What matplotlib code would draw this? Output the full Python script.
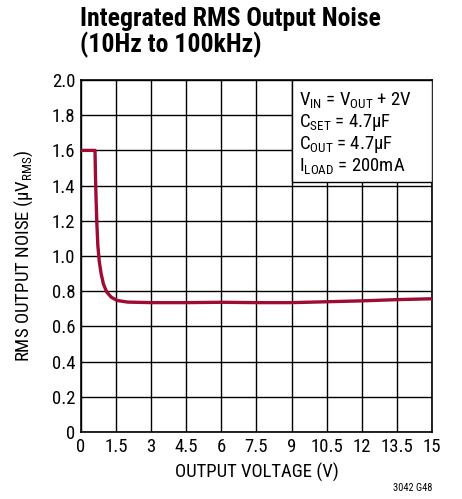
import matplotlib
matplotlib.use("Agg")
import matplotlib.pyplot as plt
from matplotlib.patches import Rectangle

# Integrated RMS output noise vs output voltage
vout = [0, 0.6, 0.62, 0.65, 0.68, 0.72, 0.78, 0.86, 0.96, 1.1, 1.3, 1.55, 2.0, 3.0,
        4.5, 6.0, 7.5, 9.0, 10.5, 12.0, 13.5, 15.0]
noise = [1.6, 1.6, 1.45, 1.3, 1.18, 1.06, 0.97, 0.9, 0.84, 0.795, 0.765, 0.747, 0.738,
         0.735, 0.735, 0.737, 0.735, 0.735, 0.74, 0.745, 0.752, 0.757]

xticks = [0, 1.5, 3, 4.5, 6, 7.5, 9, 10.5, 12, 13.5, 15]
xticklabels = ["0", "1.5", "3", "4.5", "6", "7.5", "9", "10.5", "12", "13.5", "15"]
yticks = [0, 0.2, 0.4, 0.6, 0.8, 1.0, 1.2, 1.4, 1.6, 1.8, 2.0]
yticklabels = ["0", "0.2", "0.4", "0.6", "0.8", "1.0", "1.2", "1.4", "1.6", "1.8", "2.0"]

FONT = ["Roboto Condensed", "Liberation Sans Narrow", "Roboto", "DejaVu Sans"]
plt.rcParams["font.family"] = FONT
plt.rcParams["mathtext.fontset"] = "custom"
plt.rcParams["mathtext.rm"] = "Roboto Condensed"
plt.rcParams["mathtext.it"] = "Roboto Condensed"

fig = plt.figure(figsize=(4.62, 4.99), dpi=100)
ax = fig.add_axes([0.1753, 0.1343, 0.7597, 0.7054])

ax.set_xlim(0, 15)
ax.set_ylim(0, 2.0)
ax.set_xticks(xticks)
ax.set_xticklabels(xticklabels)
ax.set_yticks(yticks)
ax.set_yticklabels(yticklabels)
ax.tick_params(length=0, labelsize=13.5, pad=4, colors="black")
ax.grid(True, color="black", linewidth=1.0)
ax.set_axisbelow(True)
for s in ax.spines.values():
    s.set_linewidth(1.2)
    s.set_color("black")

ax.plot(vout, noise, color="#9e0b35", linewidth=2.4, solid_capstyle="butt", zorder=3)

# Conditions box in the upper right corner
box = Rectangle((9.0, 1.42), 6.0, 0.58, facecolor="white", edgecolor="black",
                linewidth=1.0, zorder=4)
ax.add_patch(box)
conds = [r"V$_{\mathregular{IN}}$ = V$_{\mathregular{OUT}}$ + 2V",
         r"C$_{\mathregular{SET}}$ = 4.7µF",
         r"C$_{\mathregular{OUT}}$ = 4.7µF",
         r"I$_{\mathregular{LOAD}}$ = 200mA"]
for i, t in enumerate(conds):
    ax.text(9.3, 1.885 - i * 0.125, t, fontsize=13.5, va="center", ha="left", zorder=5)

ax.set_xlabel("OUTPUT VOLTAGE (V)", fontsize=13.5, labelpad=5)
ax.set_ylabel(r"RMS OUTPUT NOISE (µV$_{\mathregular{RMS}}$)", fontsize=13.5, labelpad=12)

fig.text(0.173, 0.985, "Integrated RMS Output Noise\n(10Hz to 100kHz)", fontsize=18.5,
         fontweight="bold", ha="left", va="top", linespacing=1.03)
fig.text(0.935, 0.012, "3042 G48", fontsize=7.5, ha="right", va="bottom")

fig.savefig("out.png", dpi=100)
